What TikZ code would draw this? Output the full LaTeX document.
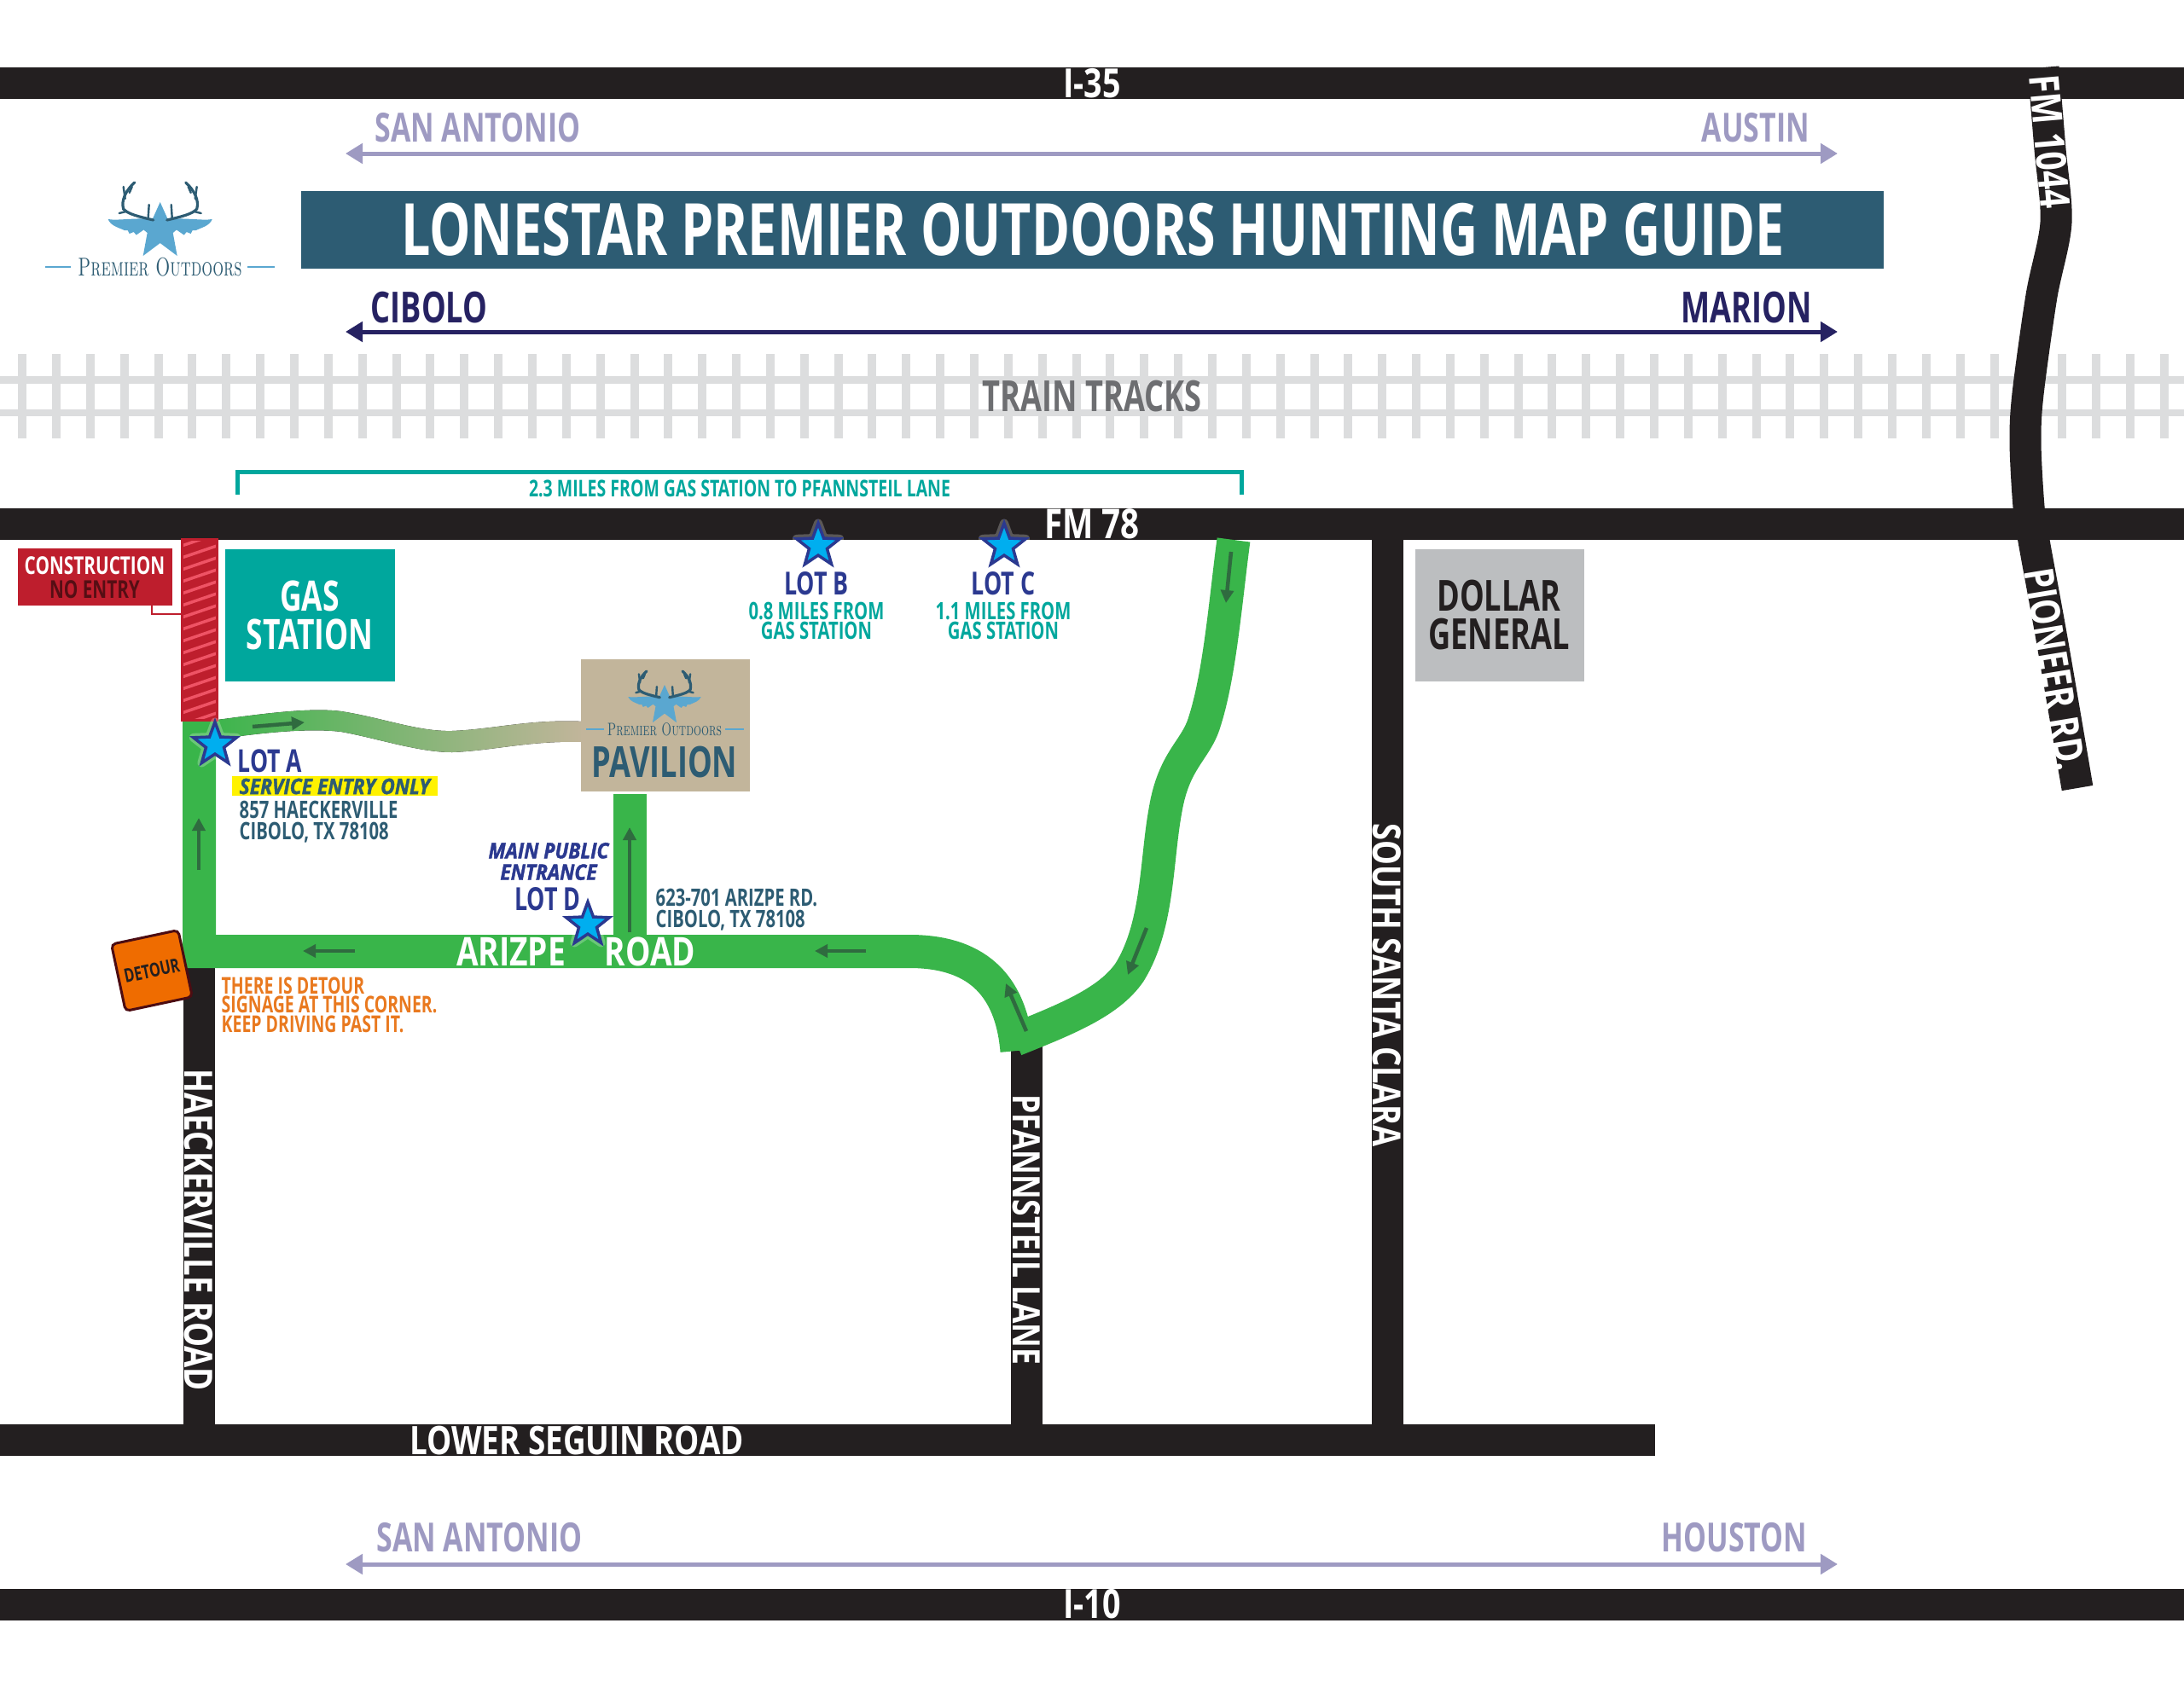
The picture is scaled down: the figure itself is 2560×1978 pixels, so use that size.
\documentclass[tikz,border=0pt]{standalone}
\usepackage{fontspec}
\usetikzlibrary{arrows.meta,shapes.geometric}
\newfontfamily\mapfont{Open Sans}[FakeStretch=0.72]
\newfontfamily\roadfont{Open Sans}[FakeStretch=0.8]
\newfontfamily\heavyfont{Open Sans}[FakeStretch=0.9,FakeBold=1.5]
\definecolor{roadblack}{HTML}{231F20}
\definecolor{roadgreen}{HTML}{39B54A}
\definecolor{arrowgreen}{HTML}{2F6B3F}
\definecolor{slate}{HTML}{2D5C73}
\definecolor{teal}{HTML}{00A79D}
\definecolor{tan}{HTML}{C2B59B}
\definecolor{lilac}{HTML}{9E9AC2}
\definecolor{navy}{HTML}{262262}
\definecolor{lotblue}{HTML}{2B3990}
\definecolor{starblue}{HTML}{00AEEF}
\definecolor{signred}{HTML}{BE1E2D}
\definecolor{signpink}{HTML}{EF5365}
\definecolor{signorange}{HTML}{EF6C00}
\definecolor{noteorange}{HTML}{E9791F}
\definecolor{tie}{HTML}{DCDDDE}
\definecolor{storegray}{HTML}{BCBEC0}
\definecolor{trackgray}{HTML}{6D6E71}
\definecolor{logoblue}{HTML}{5AA7D0}
\begin{document}
\begin{tikzpicture}[
x=0.1mm, y=-0.1mm,
road/.style={draw=roadblack, line width=3.7mm},
greenroad/.style={draw=roadgreen, line width=3.9mm},
signarrow/.style={{Triangle[length=2mm,width=2.3mm]}-{Triangle[length=2mm,width=2.3mm]}, line width=.5mm},
guide/.style={-{Triangle[length=1.5mm,width=1.5mm]}, draw=arrowgreen, line width=.45mm},
maptext/.style 2 args={font=\mapfont\bfseries\fontsize{#1}{#2}\selectfont, inner sep=0pt, align=center},
roadtext/.style={font=\roadfont\bfseries\fontsize{#1}{#1}\selectfont, inner sep=0pt, text=white},
heavytext/.style 2 args={font=\heavyfont\bfseries\itshape\fontsize{#1}{#2}\selectfont, inner sep=0pt, align=center},
lotstar/.style={star, star points=5, star point ratio=2.4, minimum size=5.3mm, inner sep=0pt, fill=starblue, draw=lotblue, line width=.35mm, preaction={draw=white, line width=1mm, line join=round, opacity=.25}},
logotext/.style={font=\rmfamily\scshape\fontsize{#1}{#1}\selectfont, inner sep=0pt, text=slate, xscale=.67},
logomark/.pic={
  \fill[logoblue] (0,0) -- (9,20) -- (33,21) -- (15,36) -- (20,63) -- (0,48) -- (-20,63) -- (-15,36) -- (-33,21) -- (-9,20) -- cycle;
  \foreach \side in {1,-1}{
    \begin{scope}[xscale=\side]
    \fill[logoblue] (8,20) .. controls (30,18) and (50,22) .. (61,20) .. controls (58,28) and (48,30) .. (42,33) -- (38,33) -- (36,37) -- (31,35) -- (28,38.5) -- (20,33) -- cycle;
    \draw[slate, line width=.32mm, line cap=round] (8,21) .. controls (25,17) and (38,14) .. (43,8) .. controls (46,-2) and (40,-14) .. (30,-23);
    \draw[slate, line width=.24mm, line cap=round] (14,18) -- (13,3);
    \draw[slate, line width=.24mm, line cap=round] (41,-4) -- (43,-18);
    \draw[slate, line width=.24mm, line cap=round] (36,-11) -- (33,-18);
    \draw[slate, line width=.24mm, line cap=round] (40,11) -- (48,13);
    \end{scope}
  }
},
]
\useasboundingbox (0,0) rectangle (2560,1978);
\fill[white] (0,0) rectangle (2560,1978);

%Train tracks
\foreach \k in {0,...,64}
  \fill[tie] (26.2+39.85*\k-5,415) rectangle (26.2+39.85*\k+5,514);
\fill[tie] (0,441) rectangle (2560,449.5);
\fill[tie] (0,479.5) rectangle (2560,488);

%Roads
\draw[road] (0,97) -- (2560,97);
\draw[road] (0,614) -- (2560,614);
\draw[road] (0,1881) -- (2560,1881);
\draw[road] (0,1688) -- (1940,1688);
\draw[road] (233,1130) -- (233,1688);
\draw[road] (1203,1225) -- (1203,1688);
\draw[road] (1626,614) -- (1626,1688);
\draw[road] plot[smooth] coordinates {(2395,79) (2403,175) (2410,261) (2393,347) (2377,462) (2374,519) (2378,594) (2384,634) (2405,749) (2435,924)};

%Route
\fill[left color=roadgreen, middle color=tan!85!roadgreen, right color=tan] (240,846) .. controls (300,838) and (360,829) .. (400,834) .. controls (450,842) and (490,858) .. (530,857) .. controls (580,855) and (620,843) .. (685,846) -- (685,870) .. controls (620,868) and (580,880) .. (530,882) .. controls (490,882) and (440,865) .. (400,858) .. controls (360,853) and (300,860) .. (253,867) -- (240,867) -- cycle;
\draw[greenroad] (738.5,931) -- (738.5,1100);
\draw[greenroad] (233.5,844) -- (233.5,1115.5) -- (1066,1115.5) .. controls (1140,1115.5) and (1185,1150) .. (1192,1232);
\draw[greenroad] (1446,633) .. controls (1437,700) and (1430,790) .. (1412,846) .. controls (1402,880) and (1376,890) .. (1366,950) .. controls (1355,1010) and (1358,1085) .. (1324,1140) .. controls (1300,1175) and (1250,1195) .. (1190,1219);

%Construction
\begin{scope}
\clip (213,632) rectangle (254,844);
\fill[signred] (213,632) rectangle (254,844);
\foreach \y in {640,654,...,870}
  \draw[signpink, line width=.35mm] (213,\y) -- (254,\y-14);
\end{scope}
\draw[signred, line width=.3mm] (213,632) rectangle (254,844);
\draw[signred, line width=.25mm] (178,710) -- (178,720) -- (213,720);
\fill[signred] (21,643) rectangle (202,710);
\node[maptext={8.2}{8.2}, text=white] (construction) at (111,663) {CONSTRUCTION};
\node[maptext={8.2}{8.2}, text=signred!45!black] (noentry) at (111,691) {NO ENTRY};

%Buildings
\node[fill=teal, minimum width=19.9mm, minimum height=15.5mm, inner sep=0pt] (gasbox) at (363.5,721.5) {};
\node[maptext={14}{14}, text=white] (gas) at (363,699) {GAS};
\node[maptext={14}{14}, text=white] (station) at (363,744) {STATION};
\node[fill=storegray, minimum width=19.8mm, minimum height=15.5mm, inner sep=0pt] (dollarbox) at (1758,721.5) {};
\node[maptext={14.3}{14.3}, text=roadblack] (dollar) at (1757,699) {DOLLAR};
\node[maptext={14.3}{14.3}, text=roadblack] (general) at (1757,744) {GENERAL};
\node[fill=tan, minimum width=19.8mm, minimum height=15.5mm, inner sep=0pt] (pavbox) at (780,850.5) {};
\pic[scale=.7] at (779,803) {logomark};
\node[logotext=6] (pavlogo) at (779,855) {Premier Outdoors};
\draw[logoblue, line width=.15mm] (687,855) -- (708,855) (850,855) -- (872,855);
\node[maptext={14.3}{14.3}, text=slate] (pavilion) at (779,894) {PAVILION};

%Logo
\pic at (187.7,237) {logomark};
\node[logotext=8.6] (logo) at (187.5,313) {Premier Outdoors};
\draw[logoblue, line width=.2mm] (53,313) -- (83,313) (290,313) -- (322,313);

%Title and directions
\fill[slate] (353,224) rectangle (2208,315);
\node[maptext={24.1}{24.1}, text=white] (title) at (1281,269) {LONESTAR PREMIER OUTDOORS HUNTING MAP GUIDE};
\draw[signarrow, lilac] (405,180) -- (2154,180);
\node[maptext={13.4}{13.4}, text=lilac] (sanantoniotop) at (560,150) {SAN ANTONIO};
\node[maptext={13.4}{13.4}, text=lilac] (austin) at (2058,150) {AUSTIN};
\draw[signarrow, navy] (405,389) -- (2154,389);
\node[maptext={14.3}{14.3}, text=navy] (cibolo) at (503,361) {CIBOLO};
\node[maptext={14.3}{14.3}, text=navy] (marion) at (2047,361) {MARION};
\node[maptext={14.3}{14.3}, text=trackgray] (tracks) at (1280,465) {TRAIN TRACKS};
\draw[signarrow, lilac] (405,1834) -- (2154,1834);
\node[maptext={13.4}{13.4}, text=lilac] (sanantoniolow) at (562,1803) {SAN ANTONIO};
\node[maptext={13.4}{13.4}, text=lilac] (houston) at (2033,1803) {HOUSTON};

%Road names
\node[roadtext=13.4] (ithirtyfive) at (1280,98) {I-35};
\node[roadtext=13.4] (iten) at (1280,1881) {I-10};
\node[roadtext=13.7] (fm78) at (1280,614) {FM 78};
\node[roadtext=13.1] (seguin) at (676,1689) {LOWER SEGUIN ROAD};
\node[roadtext=13, rotate=-90] (haeckerville) at (233,1442) {HAECKERVILLE ROAD};
\node[roadtext=12.6, rotate=-90] (pfannsteil) at (1203,1442) {PFANNSTEIL LANE};
\node[roadtext=12.9, rotate=-90] (santaclara) at (1626,1155) {SOUTH SANTA CLARA};
\node[roadtext=13.8, rotate=-85] (fm1044) at (2403,166) {FM 1044};
\node[roadtext=13.6, rotate=-80.7] (pioneer) at (2409,785) {PIONEER RD.};
\node[roadtext=13.2] (arizpe) at (599,1116) {ARIZPE};
\node[roadtext=13.2] (arizperoad) at (762,1116) {ROAD};

%Mileage bracket
\draw[teal, line width=.5mm] (278,580) -- (278,553) -- (1455,553) -- (1455,580);
\node[maptext={7.7}{7.7}, text=teal] (miles) at (867,573) {2.3 MILES FROM GAS STATION TO PFANNSTEIL LANE};

%Lots
\node[lotstar] (stara) at (252,873) {};
\node[lotstar] (starb) at (959,640) {};
\node[lotstar] (starc) at (1177,640) {};
\node[lotstar] (stard) at (689,1084) {};
\node[maptext={10.5}{10.5}, text=lotblue, anchor=west] (lota) at (278,892) {LOT A};
\node[maptext={10.6}{10.6}, text=lotblue] (lotb) at (957,684) {LOT B};
\node[maptext={10.6}{10.6}, text=lotblue] (lotc) at (1176,684) {LOT C};
\node[maptext={10.6}{10.6}, text=lotblue] (lotd) at (642,1054) {LOT D};
\node[maptext={8}{6.3}, text=teal] (noteb) at (957,728) {0.8 MILES FROM\\GAS STATION};
\node[maptext={8}{6.3}, text=teal] (notec) at (1176,728) {1.1 MILES FROM\\GAS STATION};
\fill[yellow] (272,910) rectangle (513,933);
\node[heavytext={7.2}{7.2}, text=slate, anchor=west] (service) at (280,922) {SERVICE ENTRY ONLY};
\node[maptext={8}{7.2}, text=slate, align=left, anchor=north west] (addressa) at (280,938) {857 HAECKERVILLE\\CIBOLO, TX 78108};
\node[heavytext={7.2}{7.2}, text=lotblue] (mainpublic) at (643,1010) {MAIN PUBLIC\\ENTRANCE};
\node[maptext={8}{7.2}, text=slate, align=left, anchor=north west] (addressd) at (768,1041) {623-701 ARIZPE RD.\\CIBOLO, TX 78108};

%Detour
\node[fill=signorange, draw=signred!40!black, line width=.3mm, rounded corners=.5mm, minimum size=8mm, inner sep=0pt, rotate=12] (detoursign) at (178,1138) {};
\node[maptext={6.4}{6.4}, text=roadblack, rotate=12] (detour) at (178,1138) {DETOUR};
\node[maptext={7.7}{6.4}, text=noteorange, align=left, anchor=north west] (detournote) at (259,1145) {THERE IS DETOUR\\SIGNAGE AT THIS CORNER.\\KEEP DRIVING PAST IT.};

%Lines
\draw[guide] (296,852) -- (357,847);
\draw[guide] (233,1020) -- (233,959);
\draw[guide] (416,1115) -- (355,1115);
\draw[guide] (738,1093) -- (738,970);
\draw[guide] (1015,1115) -- (955,1115);
\draw[guide] (1443,647) -- (1437,707);
\draw[guide] (1344,1088) -- (1322,1143);
\draw[guide] (1203,1209) -- (1179,1153);
\end{tikzpicture}
\end{document}
